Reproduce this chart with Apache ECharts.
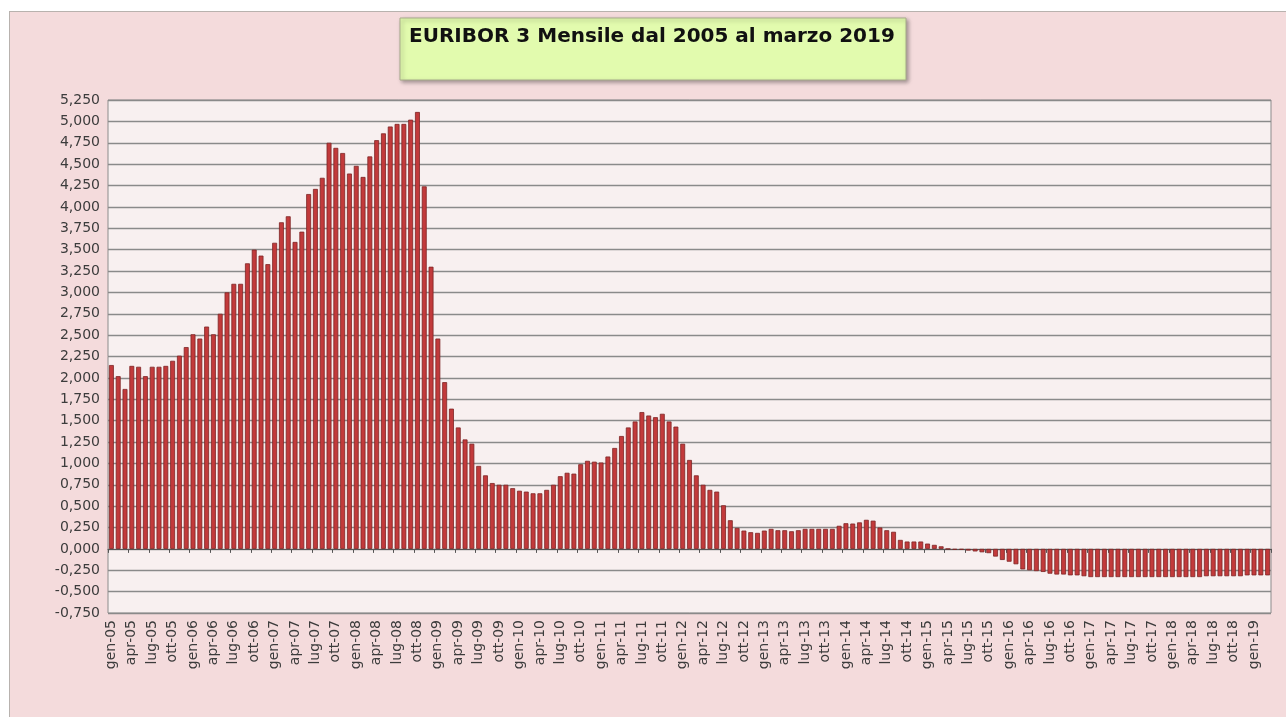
<!DOCTYPE html>
<html>
<head>
<meta charset="utf-8">
<title>EURIBOR 3 Mensile</title>
<script src="https://cdn.jsdelivr.net/npm/echarts@6/dist/echarts.min.js"></script>
<style>
  html, body { margin: 0; padding: 0; background: #ffffff; }
  #frame {
    position: absolute; left: 9px; top: 11px; width: 1277px; height: 706px;
    background: #f4dbdc; border-left: 1px solid #b8b2ae; border-top: 1px solid #b8b2ae;
    box-sizing: border-box;
  }
  #chart { position: absolute; left: 0; top: 0; width: 1286px; height: 717px; }
</style>
</head>
<body>
<div id="frame"></div>
<div id="chart"></div>
<script>
// mesi in italiano (etichette asse x)
const monthNames = ['gen', 'feb', 'mar', 'apr', 'mag', 'giu', 'lug', 'ago', 'set', 'ott', 'nov', 'dic'];
const years = [2005, 2006, 2007, 2008, 2009, 2010, 2011, 2012, 2013, 2014, 2015, 2016, 2017, 2018, 2019];

// valori Euribor 3 mesi
const rate2005 = [2.15, 2.02, 1.87, 2.14, 2.13, 2.02, 2.13, 2.13, 2.14, 2.20, 2.26, 2.36];
const rate2006 = [2.51, 2.46, 2.60, 2.51, 2.75, 3.00, 3.10, 3.10, 3.34, 3.50, 3.43, 3.33];
const rate2007 = [3.58, 3.82, 3.89, 3.59, 3.71, 4.15, 4.21, 4.34, 4.75, 4.69, 4.63, 4.39];
const rate2008 = [4.48, 4.35, 4.59, 4.78, 4.86, 4.94, 4.97, 4.97, 5.02, 5.11, 4.24, 3.30];
const rate2009 = [2.46, 1.95, 1.64, 1.42, 1.28, 1.23, 0.97, 0.86, 0.77, 0.75, 0.75, 0.71];
const rate2010 = [0.68, 0.67, 0.65, 0.65, 0.69, 0.75, 0.85, 0.89, 0.88, 0.99, 1.03, 1.02];
const rate2011 = [1.01, 1.08, 1.18, 1.32, 1.42, 1.49, 1.60, 1.56, 1.54, 1.58, 1.49, 1.43];
const rate2012 = [1.23, 1.04, 0.86, 0.75, 0.69, 0.67, 0.51, 0.335, 0.245, 0.214, 0.195, 0.187];
const rate2013 = [0.214, 0.234, 0.218, 0.218, 0.206, 0.218, 0.234, 0.234, 0.234, 0.234, 0.234, 0.27];
const rate2014 = [0.30, 0.296, 0.31, 0.34, 0.33, 0.25, 0.218, 0.20, 0.105, 0.086, 0.086, 0.086];
const rate2015 = [0.062, 0.047, 0.03, 0.0, -0.01, -0.01, -0.02, -0.03, -0.04, -0.05, -0.09, -0.13];
const rate2016 = [-0.15, -0.18, -0.24, -0.25, -0.26, -0.27, -0.29, -0.30, -0.30, -0.31, -0.31, -0.32];
const rate2017 = [-0.33, -0.33, -0.33, -0.33, -0.33, -0.33, -0.33, -0.33, -0.33, -0.33, -0.33, -0.33];
const rate2018 = [-0.33, -0.33, -0.33, -0.33, -0.33, -0.32, -0.32, -0.32, -0.32, -0.32, -0.32, -0.31];
const rate2019 = [-0.31, -0.31, -0.31];

const rates = [].concat(rate2005, rate2006, rate2007, rate2008, rate2009, rate2010, rate2011,
  rate2012, rate2013, rate2014, rate2015, rate2016, rate2017, rate2018, rate2019);

// categorie gen-05 ... mar-19
const categories = [];
years.forEach(y => {
  monthNames.forEach(m => {
    if (categories.length < rates.length) categories.push(m + '-' + String(y).slice(2));
  });
});

const titleText = 'EURIBOR 3 Mensile dal 2005 al marzo 2019';

let chart = echarts.init(document.getElementById('chart'));
let option = {
  backgroundColor: 'transparent',
  animation: false,
  textStyle: { fontFamily: 'DejaVu Sans' },
  graphic: [
    {
      type: 'rect',
      shape: { x: 400, y: 18, width: 506, height: 62 },
      style: {
        fill: '#e2fbae', stroke: '#a7ab8a', lineWidth: 1,
        shadowBlur: 4, shadowOffsetX: 2, shadowOffsetY: 2, shadowColor: 'rgba(0,0,0,0.35)'
      },
      z: 10
    },
    {
      type: 'text',
      x: 409, y: 27,
      style: {
        text: titleText, fill: '#111111',
        font: 'bold 20px "DejaVu Sans"'
      },
      z: 11
    }
  ],
  grid: {
    left: 108, right: 15, top: 100, bottom: 104,
    show: true, backgroundColor: '#f8f0f0', borderColor: '#8c8c8c', borderWidth: 1
  },
  xAxis: [
    {
      type: 'category',
      data: categories,
      axisLine: { show: false, onZero: false },
      axisTick: { show: false },
      axisLabel: {
        interval: 2, rotate: 90, fontSize: 14, color: '#3c3c3c', margin: 7
      }
    },
    {
      type: 'category',
      data: categories,
      position: 'bottom',
      axisLine: { show: true, onZero: true, lineStyle: { color: '#555555', width: 1 } },
      axisTick: { show: true, interval: 2, length: 4, lineStyle: { color: '#555555' } },
      axisLabel: { show: false }
    }
  ],
  yAxis: {
    type: 'value',
    min: -0.75, max: 5.25, interval: 0.25,
    axisLine: { show: false },
    axisTick: { show: false },
    splitLine: { lineStyle: { color: '#8a8a8a', width: 1.3 } },
    axisLabel: {
      fontSize: 14, color: '#3c3c3c', margin: 8,
      formatter: v => v.toFixed(3).replace('.', ',')
    }
  },
  series: [
    {
      name: 'Euribor 3M',
      type: 'bar',
      xAxisIndex: 0,
      barCategoryGap: '28%',
      itemStyle: { color: '#c23a3b', borderColor: '#7e2424', borderWidth: 0.8 },
      data: rates
    }
  ]
};

option && chart.setOption(option);
</script>
</body>
</html>
